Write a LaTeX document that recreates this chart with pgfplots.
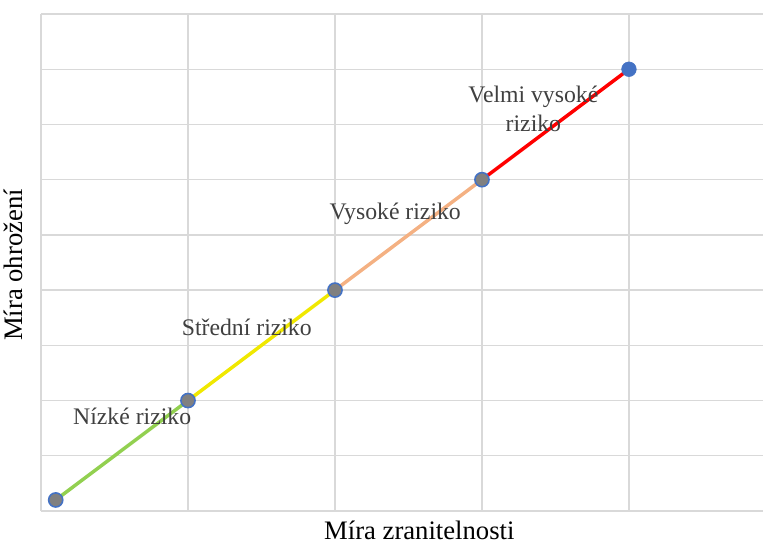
\documentclass[border=0pt]{standalone}
\usepackage{pgfplots}
\pgfplotsset{compat=1.18}
\usepackage{fontspec}
\setmainfont{Liberation Serif}
\definecolor{gridc}{HTML}{D9D9D9}
\definecolor{lgreen}{HTML}{92D050}
\definecolor{lyellow}{HTML}{F0E800}
\definecolor{lpeach}{HTML}{F4B183}
\definecolor{lred}{HTML}{FF0000}
\definecolor{mblue}{HTML}{4472C4}
\definecolor{mgray}{HTML}{808080}
\definecolor{tgray}{HTML}{404040}
\begin{document}
\begin{tikzpicture}
\useasboundingbox (0,0) rectangle (572.25pt,409.5pt);
\begin{axis}[
  at={(30.75pt,26.25pt)}, anchor=south west,
  scale only axis, width=541.5pt, height=372.75pt,
  xmin=0, xmax=4.912, ymin=0, ymax=9,
  xtick={0,1,2,3,4}, ytick={0,1,...,9},
  xticklabels={}, yticklabels={},
  major tick length=0pt,
  grid=major, grid style={gridc, line width=1pt},
  axis line style={draw=none},
  clip=false,
]
\addplot[lgreen, line width=2.6pt] coordinates {(0.1,0.2) (1,2)};
\addplot[lyellow, line width=2.6pt] coordinates {(1,2) (2,4)};
\addplot[lpeach, line width=2.6pt] coordinates {(2,4) (3,6)};
\addplot[lred, line width=2.6pt] coordinates {(3,6) (4,8)};
\addplot[only marks, mark=*, mark size=5.3pt, mark options={fill=mgray, draw=mblue, line width=1.2pt}] coordinates {(0.1,0.2) (1,2) (2,4) (3,6)};
\addplot[only marks, mark=*, mark size=5.5pt, mark options={fill=mblue, draw=mblue}] coordinates {(4,8)};
\node[tgray, font=\fontsize{17.8pt}{20pt}\selectfont] at (axis cs:0.62,1.72) {Nízké riziko};
\node[tgray, font=\fontsize{17.8pt}{20pt}\selectfont] at (axis cs:1.40,3.33) {Střední riziko};
\node[tgray, font=\fontsize{17.8pt}{20pt}\selectfont] at (axis cs:2.41,5.39) {Vysoké riziko};
\node[tgray, font=\fontsize{17.8pt}{21.5pt}\selectfont, align=center] at (axis cs:3.35,7.28) {Velmi vysoké\\riziko};
\node[black, font=\fontsize{20pt}{24pt}\selectfont, anchor=base] at (axis description cs:0.524,-0.058) {Míra zranitelnosti};
\node[black, font=\fontsize{20pt}{24pt}\selectfont, rotate=90, anchor=base] at (axis description cs:-0.026,0.495) {Míra ohrožení};
\end{axis}
\end{tikzpicture}
\end{document}
